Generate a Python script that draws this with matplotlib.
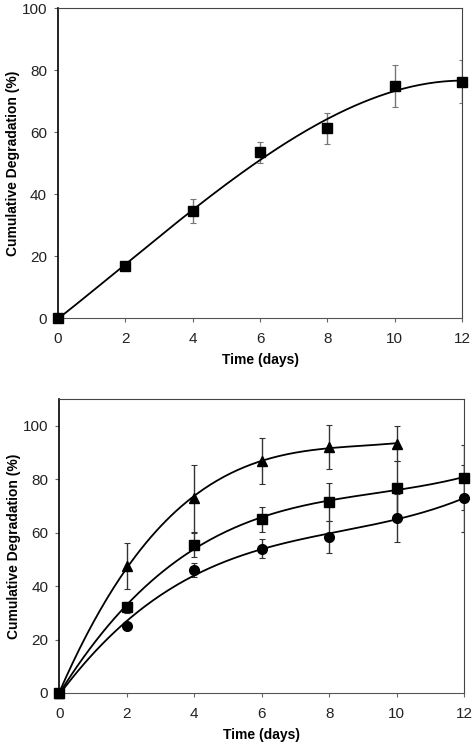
import numpy as np
import matplotlib
matplotlib.use("Agg")
import matplotlib.pyplot as plt

plt.rcParams['font.family'] = ['Liberation Sans', 'DejaVu Sans']

# ---- top panel data ----
top_days = [0, 2, 4, 6, 8, 10, 12]
top_deg = [0, 17.0, 34.5, 53.5, 61.2, 75.0, 76.3]
top_err = [0, 1.0, 3.8, 3.4, 4.9, 6.8, 6.9]

# ---- bottom panel data ----
tri_days = [0, 2, 4, 6, 8, 10]
tri_deg = [0, 47.5, 72.9, 86.9, 91.9, 93.3]
tri_err = [0, 8.7, 12.5, 8.6, 8.2, 6.5]

sq_days = [0, 2, 4, 6, 8, 10, 12]
sq_deg = [0, 32.1, 55.3, 65.0, 71.5, 76.6, 80.6]
sq_err = [0, 2.0, 4.6, 4.6, 7.0, 10.0, 12.3]

ci_days = [0, 2, 4, 6, 8, 10, 12]
ci_deg = [0, 24.9, 45.9, 54.0, 58.5, 65.4, 72.9]
ci_err = [0, 1.0, 2.6, 3.5, 6.0, 9.0, 12.5]

fig = plt.figure(figsize=(4.76, 7.47), dpi=100)
ax1 = fig.add_axes([0.122, 0.574, 0.849, 0.415])
ax2 = fig.add_axes([0.1246, 0.0723, 0.8504, 0.3937])


def trend(ax, x, y, deg, color="black"):
    # smooth trendline fitted to the measured points
    c = np.polyfit(x, y, deg)
    xs = np.linspace(min(x), max(x), 200)
    ax.plot(xs, np.polyval(c, xs), color=color, lw=1.3, zorder=2)


def style(ax, ylim, yticks):
    ax.set_xlim(0, 12)
    ax.set_ylim(*ylim)
    ax.set_xticks(range(0, 13, 2))
    ax.set_yticks(yticks)
    for s in ax.spines.values():
        s.set_color("#444444")
        s.set_linewidth(0.8)
    ax.spines["left"].set_color("black")
    ax.spines["left"].set_linewidth(1.2)
    ax.spines["bottom"].set_color("#555555")
    ax.tick_params(direction="out", length=3, width=0.8, color="#666666",
                   labelsize=11, labelcolor="#222222", pad=5)
    ax.tick_params(axis="x", pad=7)
    ax.set_xlabel("Time (days)", fontsize=10, fontweight="bold", labelpad=5)
    ax.set_ylabel("Cumulative Degradation (%)", fontsize=10,
                  fontweight="bold")
    ax.yaxis.set_label_coords(-0.094, 0.5)


# top panel
ax1.errorbar(top_days, top_deg, yerr=top_err, fmt="none", ecolor="#777777",
             elinewidth=1.0, capsize=2, capthick=0.8, zorder=1)
trend(ax1, top_days, top_deg, 3)
ax1.plot(top_days, top_deg, "s", color="black", ms=7, zorder=3, clip_on=False)
style(ax1, (0, 100), range(0, 101, 20))

# bottom panel
for x, y, e, m, ms in [(tri_days, tri_deg, tri_err, "^", 7.5),
                       (sq_days, sq_deg, sq_err, "s", 7),
                       (ci_days, ci_deg, ci_err, "o", 7)]:
    ax2.errorbar(x, y, yerr=e, fmt="none", ecolor="#333333",
                 elinewidth=1.0, capsize=2, capthick=0.8, zorder=1)
    trend(ax2, x, y, 3)
    ax2.plot(x, y, m, color="black", ms=ms, zorder=3, clip_on=False)
style(ax2, (0, 110), range(0, 101, 20))

fig.savefig("out.png", dpi=100)
